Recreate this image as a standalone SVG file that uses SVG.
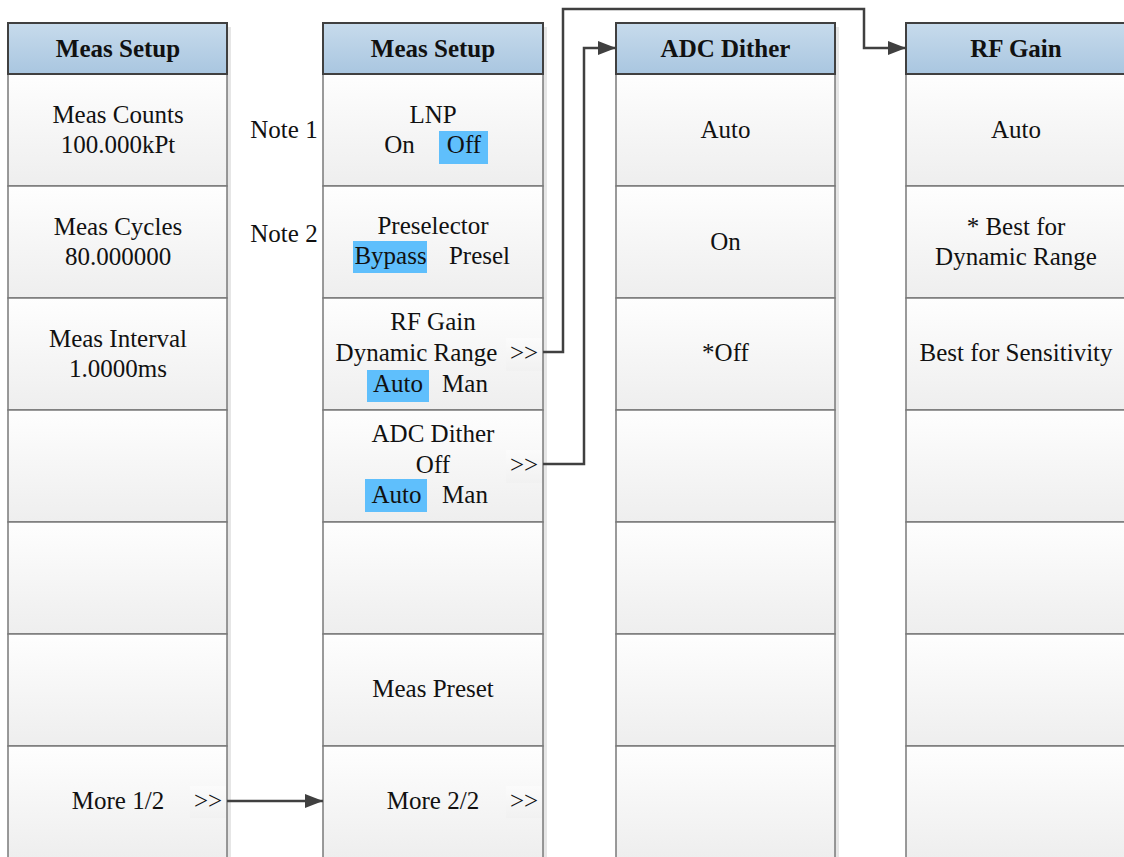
<svg xmlns="http://www.w3.org/2000/svg" width="1124" height="857" viewBox="0 0 1124 857">
<defs>
<linearGradient id="gHead" x1="0" y1="0" x2="0" y2="1">
<stop offset="0" stop-color="#c7dbec"/>
<stop offset="1" stop-color="#a9c6e0"/>
</linearGradient>
<linearGradient id="gCell" x1="0" y1="0" x2="0" y2="1">
<stop offset="0" stop-color="#fefefe"/>
<stop offset="1" stop-color="#eeeeee"/>
</linearGradient>
<linearGradient id="gBtn" x1="0" y1="0" x2="0" y2="1">
<stop offset="0" stop-color="#fbfbfb"/>
<stop offset="1" stop-color="#f1f1f1"/>
</linearGradient>
<marker id="arr" viewBox="0 0 18 14" refX="18" refY="7" markerWidth="18" markerHeight="14" markerUnits="userSpaceOnUse" orient="auto">
<path d="M0,0 L18,7 L0,14 Z" fill="#404040"/>
</marker>
</defs>
<style>
.shadow{fill:#e6e6e6}
.head{fill:url(#gHead);stroke:#404040;stroke-width:2}
.cell{fill:url(#gCell);stroke:#7a7a7a;stroke-width:1.5}
.btn{fill:url(#gBtn)}
.hl{fill:#5fbffc}
text{font-family:"Liberation Serif","Times New Roman",Tinos,"Noto Serif","DejaVu Serif",serif;font-size:25px;fill:#111}
.t{text-anchor:middle}
.h{font-weight:bold;text-anchor:middle}
.conn{fill:none;stroke:#404040;stroke-width:2.5}
</style>
<rect width="1124" height="857" fill="#ffffff"/>

<!-- Column 1 -->
<g id="col1">
<rect class="shadow" x="12" y="27" width="219" height="840"/>
<rect class="cell" x="8" y="74" width="219" height="112"/>
<rect class="cell" x="8" y="186" width="219" height="112"/>
<rect class="cell" x="8" y="298" width="219" height="112"/>
<rect class="cell" x="8" y="410" width="219" height="112"/>
<rect class="cell" x="8" y="522" width="219" height="112"/>
<rect class="cell" x="8" y="634" width="219" height="112"/>
<rect class="cell" x="8" y="746" width="219" height="112"/>
<rect class="head" x="8" y="23" width="219" height="51"/>
<text class="h" x="118" y="57">Meas Setup</text>
<text class="t" x="118" y="123">Meas Counts</text>
<text class="t" x="118" y="153">100.000kPt</text>
<text class="t" x="118" y="235">Meas Cycles</text>
<text class="t" x="118" y="265">80.000000</text>
<text class="t" x="118" y="347">Meas Interval</text>
<text class="t" x="118" y="377">1.0000ms</text>
<rect class="btn" x="190" y="786" width="36" height="32"/>
<text class="t" x="118" y="809">More 1/2</text>
<text class="t" x="208" y="809">&gt;&gt;</text>
</g>

<!-- Notes -->
<g id="notes">
<text class="t" x="284" y="138">Note 1</text>
<text class="t" x="284" y="242">Note 2</text>
</g>

<!-- Column 2 -->
<g id="col2">
<rect class="shadow" x="327" y="27" width="220" height="840"/>
<rect class="cell" x="323" y="74" width="220" height="112"/>
<rect class="cell" x="323" y="186" width="220" height="112"/>
<rect class="cell" x="323" y="298" width="220" height="112"/>
<rect class="cell" x="323" y="410" width="220" height="112"/>
<rect class="cell" x="323" y="522" width="220" height="112"/>
<rect class="cell" x="323" y="634" width="220" height="112"/>
<rect class="cell" x="323" y="746" width="220" height="112"/>
<rect class="head" x="323" y="23" width="220" height="51"/>
<text class="h" x="433" y="57">Meas Setup</text>
<text class="t" x="433" y="123">LNP</text>
<rect class="hl" x="439" y="131" width="49" height="33"/>
<text class="t" x="399.5" y="153">On</text>
<text class="t" x="464" y="153">Off</text>
<text class="t" x="433" y="234">Preselector</text>
<rect class="hl" x="353" y="241" width="74" height="32"/>
<text class="t" x="390.5" y="264">Bypass</text>
<text class="t" x="479.5" y="264">Presel</text>
<text class="t" x="433" y="330">RF Gain</text>
<text class="t" x="416.5" y="361">Dynamic Range</text>
<rect class="btn" x="506" y="338" width="36" height="33"/>
<text class="t" x="524" y="361">&gt;&gt;</text>
<rect class="hl" x="367" y="370" width="62" height="32"/>
<text class="t" x="398" y="392">Auto</text>
<text class="t" x="465" y="392">Man</text>
<text class="t" x="433" y="442">ADC Dither</text>
<text class="t" x="433" y="473">Off</text>
<rect class="btn" x="506" y="450" width="36" height="33"/>
<text class="t" x="524" y="473">&gt;&gt;</text>
<rect class="hl" x="365" y="479" width="62" height="33"/>
<text class="t" x="396.5" y="503">Auto</text>
<text class="t" x="465" y="503">Man</text>
<text class="t" x="433" y="697">Meas Preset</text>
<rect class="btn" x="506" y="786" width="36" height="32"/>
<text class="t" x="433" y="809">More 2/2</text>
<text class="t" x="524" y="809">&gt;&gt;</text>
</g>

<!-- Column 3 -->
<g id="col3">
<rect class="shadow" x="620" y="27" width="219" height="840"/>
<rect class="cell" x="616" y="74" width="219" height="112"/>
<rect class="cell" x="616" y="186" width="219" height="112"/>
<rect class="cell" x="616" y="298" width="219" height="112"/>
<rect class="cell" x="616" y="410" width="219" height="112"/>
<rect class="cell" x="616" y="522" width="219" height="112"/>
<rect class="cell" x="616" y="634" width="219" height="112"/>
<rect class="cell" x="616" y="746" width="219" height="112"/>
<rect class="head" x="616" y="23" width="219" height="51"/>
<text class="h" x="725.5" y="57">ADC Dither</text>
<text class="t" x="725.5" y="138">Auto</text>
<text class="t" x="725.5" y="250">On</text>
<text class="t" x="725.5" y="361">*Off</text>
</g>

<!-- Column 4 -->
<g id="col4">
<rect class="cell" x="906" y="74" width="221" height="112"/>
<rect class="cell" x="906" y="186" width="221" height="112"/>
<rect class="cell" x="906" y="298" width="221" height="112"/>
<rect class="cell" x="906" y="410" width="221" height="112"/>
<rect class="cell" x="906" y="522" width="221" height="112"/>
<rect class="cell" x="906" y="634" width="221" height="112"/>
<rect class="cell" x="906" y="746" width="221" height="112"/>
<rect class="head" x="906" y="23" width="221" height="51"/>
<text class="h" x="1016" y="57">RF Gain</text>
<text class="t" x="1016" y="138">Auto</text>
<text class="t" x="1016" y="235">* Best for</text>
<text class="t" x="1016" y="265">Dynamic Range</text>
<text class="t" x="1016" y="361">Best for Sensitivity</text>
</g>

<!-- Connectors -->
<g id="connectors">
<path class="conn" d="M227,801 H323" marker-end="url(#arr)"/>
<path class="conn" d="M543,352 H563 V9 H864 V48 H906" marker-end="url(#arr)"/>
<path class="conn" d="M543,464 H584 V48 H616" marker-end="url(#arr)"/>
</g>
</svg>
